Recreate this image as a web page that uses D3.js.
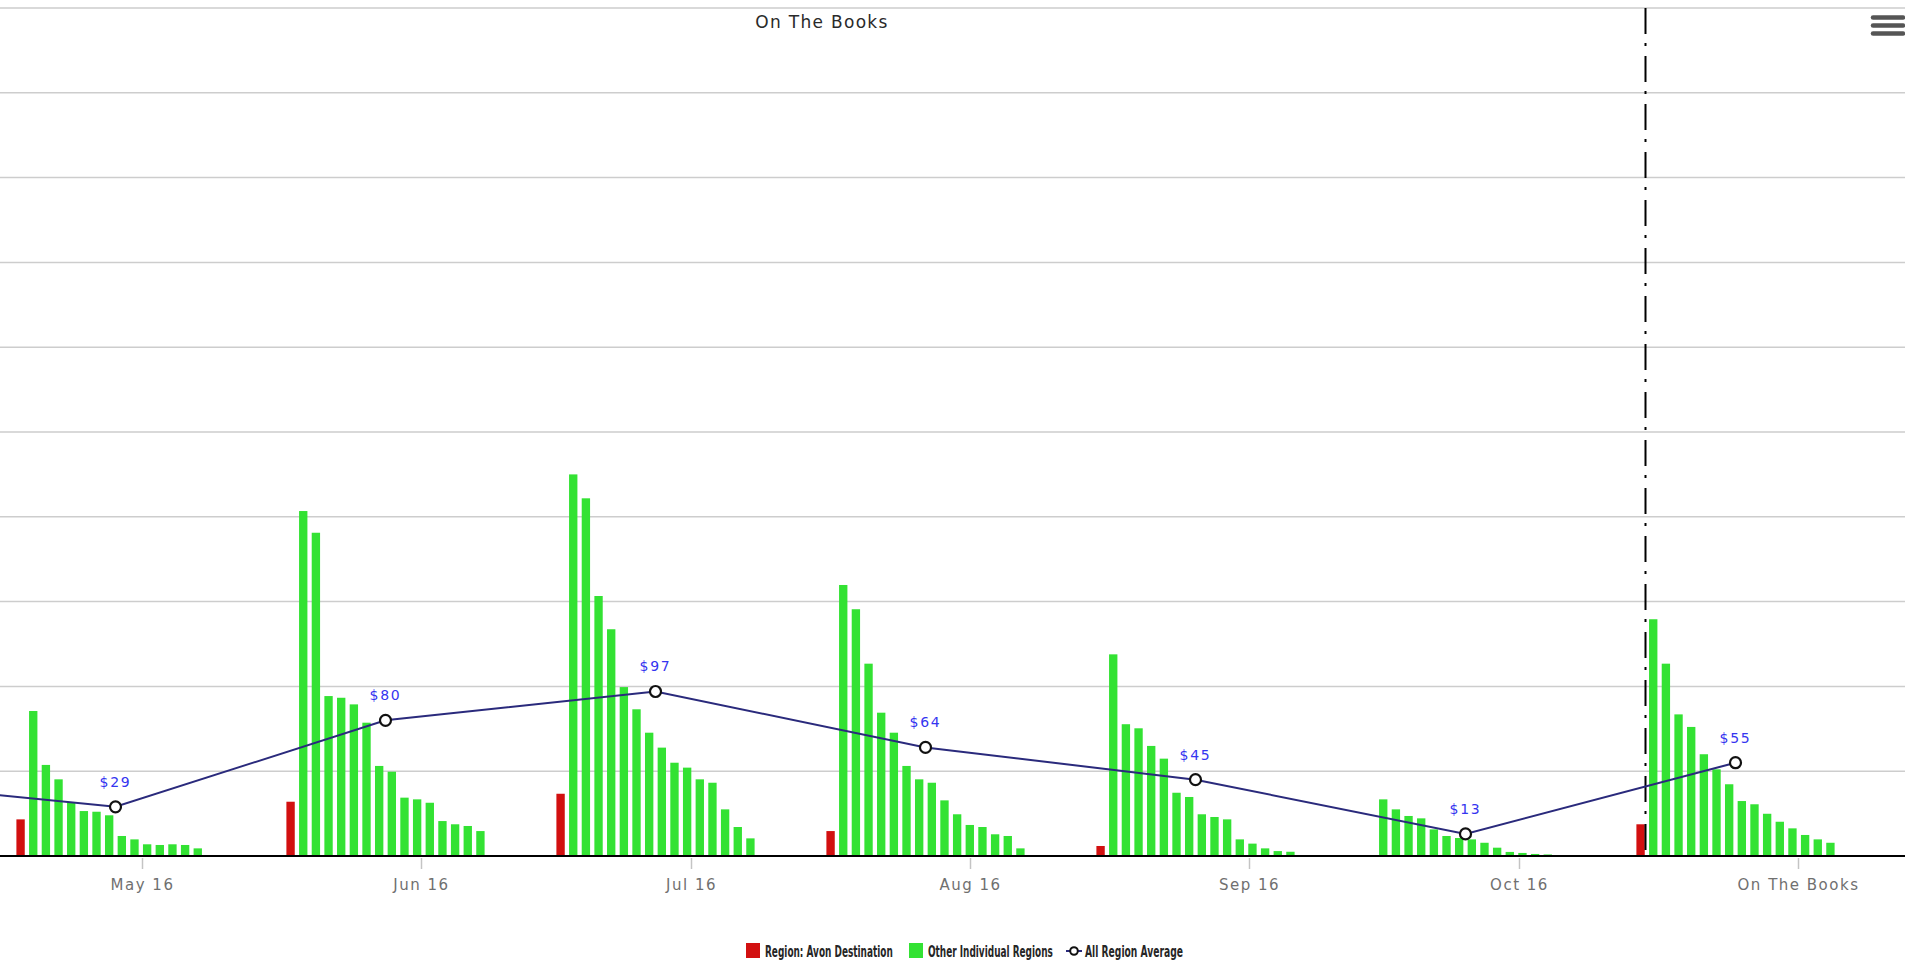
<!DOCTYPE html>
<html>
<head>
<meta charset="utf-8">
<script src="https://cdn.jsdelivr.net/npm/d3@7"></script>
<style>
  html, body { margin: 0; padding: 0; background: #fff; overflow: hidden; }
  svg { display: block; }
</style>
</head>
<body>
<svg id="chart" width="1905" height="963"></svg>
<script>
// ---- data -------------------------------------------------------------
// Monthly periods for the average line (first one sits left of the visible plot)
const periodDates = ["2016-03-29", "2016-04-28", "2016-05-28", "2016-06-27",
                     "2016-07-27", "2016-08-26", "2016-09-25", "2016-10-25"];
const averageValues = [45, 29, 80, 97, 64, 45, 13, 55];

// Periods that carry region columns
const barDates = ["2016-04-28", "2016-05-28", "2016-06-27", "2016-07-27",
                  "2016-08-26", "2016-09-25", "2016-10-25"];
const avonValues = [21.6, 32, 36.7, 14.7, 5.9, 0, 18.7];
const otherRegionValues = [
  [85.5, 53.7, 45.2, 31.4, 26.5, 26.1, 24, 11.8, 9.8, 6.9, 6.5, 6.9, 6.5, 4.5, 0],
  [203.4, 190.6, 94.3, 93.3, 89.4, 78.6, 53.1, 49.7, 34.4, 33.4, 31.4, 20.6, 18.7, 17.7, 14.7],
  [225, 210.9, 153.3, 133.7, 99.6, 86.5, 72.7, 63.9, 55, 52.1, 45.2, 43.2, 27.5, 17.1, 10.4],
  [159.8, 145.5, 113.4, 84.5, 72.7, 53.1, 45.2, 43.2, 32.8, 24.6, 18.3, 17.1, 12.8, 11.8, 4.5],
  [118.9, 77.7, 75.3, 64.9, 57.4, 37.3, 34.8, 24.6, 23, 21.6, 9.8, 7.3, 4.5, 2.9, 2.5],
  [33.4, 27.5, 23.6, 22.2, 15.7, 11.8, 10.6, 9.8, 7.8, 4.9, 2.4, 1.8, 1.2, 0.9, 0],
  [139.6, 113.4, 83.5, 76.1, 60, 51.1, 42.3, 32.4, 30.5, 24.9, 20.2, 16.3, 12.4, 9.8, 7.8]
];

const tickDates = ["2016-05-01", "2016-06-01", "2016-07-01", "2016-08-01",
                   "2016-09-01", "2016-10-01", "2016-11-01"];
const tickLabels = ["May 16", "Jun 16", "Jul 16", "Aug 16", "Sep 16", "Oct 16", "On The Books"];

const todayDate = "2016-10-15";
const yMax = 500;

const legendItems = ["Region: Avon Destination", "Other Individual Regions", "All Region Average"];

// ---- styling ------------------------------------------------------------
const RED = "#d21010";
const GREEN = "#33e233";
const LINE = "#2a2a7c";
const LABEL_BLUE = "#3535f0";

// ---- scales -------------------------------------------------------------
const parse = d3.utcParse("%Y-%m-%d");
const svg = d3.select("#chart");
const W = 1905;

const x = d3.scaleUtc()
  .domain([parse(tickDates[0]), parse(tickDates[tickDates.length - 1])])
  .range([142.5, 1798.5]);

const y = d3.scaleLinear().domain([0, yMax]).range([856, 8]);

// ---- grid ---------------------------------------------------------------
svg.append("g")
  .selectAll("line")
  .data(y.ticks(10).filter(v => v > 0))
  .join("line")
  .attr("x1", 0).attr("x2", W)
  .attr("y1", d => y(d)).attr("y2", d => y(d))
  .attr("stroke", "#cdcdcd")
  .attr("stroke-width", 1.5);

// ---- columns ------------------------------------------------------------
const periodSpan = x(d3.utcDay.offset(parse(barDates[0]), 30)) - x(parse(barDates[0]));
const groupWidth = periodSpan * 0.75;
const slotCount = 1 + otherRegionValues[0].length;
const inner = d3.scaleBand()
  .domain(d3.range(slotCount))
  .range([-groupWidth / 2, groupWidth / 2])
  .paddingInner(0.34)
  .paddingOuter(0.17);

const columns = barDates.flatMap((ds, i) => {
  const date = parse(ds);
  return [{ date, slot: 0, value: avonValues[i], color: RED }]
    .concat(otherRegionValues[i].map((v, j) => ({ date, slot: j + 1, value: v, color: GREEN })));
});

svg.append("g")
  .selectAll("rect")
  .data(columns.filter(d => d.value > 0))
  .join("rect")
  .attr("x", d => x(d.date) + inner(d.slot))
  .attr("y", d => y(d.value))
  .attr("width", inner.bandwidth())
  .attr("height", d => y(0) - y(d.value))
  .attr("fill", d => d.color);

// ---- x axis -------------------------------------------------------------
const xAxis = svg.append("g");
xAxis.append("line")
  .attr("x1", 0).attr("x2", W)
  .attr("y1", y(0)).attr("y2", y(0))
  .attr("stroke", "#000").attr("stroke-width", 2);

const ticks = tickDates.map((d, i) => ({ date: parse(d), label: tickLabels[i] }));
xAxis.selectAll(".tick")
  .data(ticks)
  .join("line")
  .attr("class", "tick")
  .attr("x1", d => x(d.date)).attr("x2", d => x(d.date))
  .attr("y1", y(0) + 2).attr("y2", y(0) + 13)
  .attr("stroke", "#c4c4c4").attr("stroke-width", 1.5);

xAxis.selectAll(".tick-label")
  .data(ticks)
  .join("text")
  .attr("class", "tick-label")
  .attr("x", d => x(d.date))
  .attr("y", 890)
  .attr("text-anchor", "middle")
  .attr("font-family", "DejaVu Sans, sans-serif")
  .attr("font-size", 15)
  .attr("letter-spacing", 1.5)
  .attr("fill", "#707070")
  .text(d => d.label);

// ---- today marker (dash-dot) -------------------------------------------
svg.append("line")
  .attr("x1", x(parse(todayDate))).attr("x2", x(parse(todayDate)))
  .attr("y1", y(yMax)).attr("y2", y(0))
  .attr("stroke", "#000")
  .attr("stroke-width", 2)
  .attr("stroke-dasharray", "26,9,3,10");

// ---- average line -------------------------------------------------------
const avg = periodDates.map((d, i) => ({ date: parse(d), value: averageValues[i] }));
const line = d3.line().x(d => x(d.date)).y(d => y(d.value));

svg.append("path")
  .datum(avg)
  .attr("d", line)
  .attr("fill", "none")
  .attr("stroke", LINE)
  .attr("stroke-width", 2);

svg.append("g")
  .selectAll("circle")
  .data(avg)
  .join("circle")
  .attr("cx", d => x(d.date))
  .attr("cy", d => y(d.value))
  .attr("r", 5.5)
  .attr("fill", "#fff")
  .attr("stroke", "#111")
  .attr("stroke-width", 2.2);

// value labels only for points inside the plot
svg.append("g")
  .selectAll("text")
  .data(avg.filter(d => x(d.date) >= 0 && x(d.date) <= W))
  .join("text")
  .attr("x", d => x(d.date))
  .attr("y", d => y(d.value) - 20)
  .attr("text-anchor", "middle")
  .attr("font-family", "DejaVu Sans, sans-serif")
  .attr("font-size", 14)
  .attr("letter-spacing", 1.8)
  .attr("fill", LABEL_BLUE)
  .text(d => "$" + d.value);

// ---- title --------------------------------------------------------------
svg.append("text")
  .attr("x", 822)
  .attr("y", 28)
  .attr("text-anchor", "middle")
  .attr("font-family", "DejaVu Sans, sans-serif")
  .attr("font-size", 17)
  .attr("letter-spacing", 1.3)
  .attr("fill", "#2a2a2a")
  .text("On The Books");

// ---- menu button --------------------------------------------------------
svg.append("g")
  .selectAll("line")
  .data([17.5, 25.5, 33.5])
  .join("line")
  .attr("x1", 1873).attr("x2", 1903)
  .attr("y1", d => d).attr("y2", d => d)
  .attr("stroke", "#555")
  .attr("stroke-width", 4.5)
  .attr("stroke-linecap", "round");

// ---- legend -------------------------------------------------------------
const legend = svg.append("g")
  .attr("font-family", "'Liberation Sans Narrow', 'DejaVu Sans Condensed', sans-serif")
  .attr("font-size", 16)
  .attr("font-weight", "bold")
  .attr("fill", "#262626");

const legendLayout = [
  { symbolX: 746, textX: 765, textWidth: 128, kind: "rect", color: RED },
  { symbolX: 909, textX: 928, textWidth: 125, kind: "rect", color: GREEN },
  { symbolX: 1066, textX: 1085, textWidth: 98, kind: "line", color: "#111" }
];

legendItems.forEach((name, i) => {
  const L = legendLayout[i];
  if (L.kind === "rect") {
    legend.append("rect")
      .attr("x", L.symbolX).attr("y", 943)
      .attr("width", 14).attr("height", 15)
      .attr("fill", L.color);
  } else {
    legend.append("line")
      .attr("x1", L.symbolX).attr("x2", L.symbolX + 16)
      .attr("y1", 951).attr("y2", 951)
      .attr("stroke", LINE).attr("stroke-width", 2);
    legend.append("circle")
      .attr("cx", L.symbolX + 8).attr("cy", 951)
      .attr("r", 3.8)
      .attr("fill", "#fff").attr("stroke", "#111").attr("stroke-width", 2);
  }
  // condensed label: squeeze horizontally to the item width
  const t = legend.append("text")
    .attr("x", 0).attr("y", 0)
    .text(name);
  const natural = t.node().getComputedTextLength();
  t.attr("transform", `translate(${L.textX},957) scale(${L.textWidth / natural},1)`);
});
</script>
</body>
</html>
